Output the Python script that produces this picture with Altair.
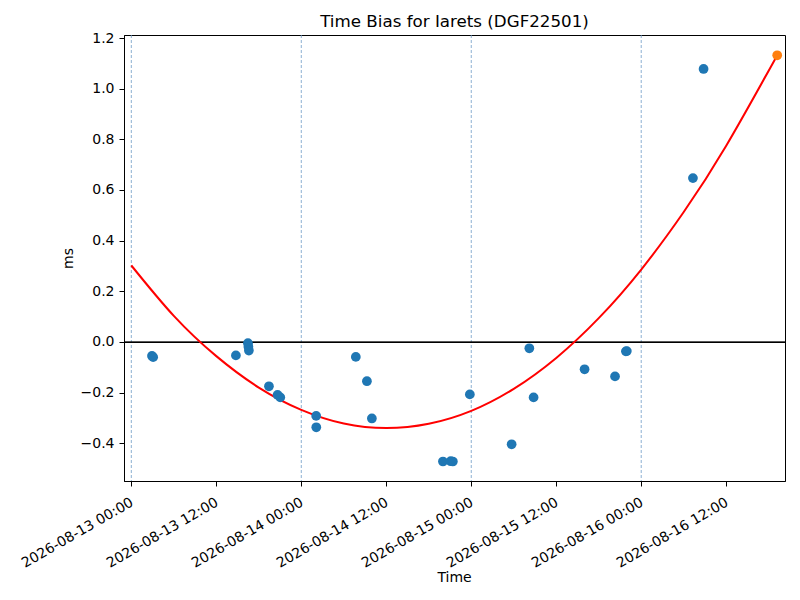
import altair as alt
import pandas as pd

# ---- data ----
blue_times = [
    "2026-08-13T02:55:00", "2026-08-13T03:05:00", "2026-08-13T14:46:00",
    "2026-08-13T16:28:00", "2026-08-13T16:32:00", "2026-08-13T16:36:00",
    "2026-08-13T19:26:00", "2026-08-13T20:39:00", "2026-08-13T21:02:00",
    "2026-08-14T02:06:00", "2026-08-14T02:07:00", "2026-08-14T07:42:00",
    "2026-08-14T09:16:00", "2026-08-14T09:58:00", "2026-08-14T20:00:00",
    "2026-08-14T21:06:00", "2026-08-14T21:24:00", "2026-08-14T23:48:00",
    "2026-08-15T05:42:00", "2026-08-15T08:12:00", "2026-08-15T08:48:00",
    "2026-08-15T16:00:00", "2026-08-15T20:18:00", "2026-08-15T21:50:00",
    "2026-08-15T21:58:00", "2026-08-16T07:18:00", "2026-08-16T08:48:00",
]
blue_vals = [
    -0.055, -0.060, -0.053,
    -0.005, -0.019, -0.034,
    -0.175, -0.209, -0.219,
    -0.292, -0.337, -0.059,
    -0.155, -0.302, -0.472,
    -0.471, -0.472, -0.207,
    -0.404, -0.025, -0.219,
    -0.108, -0.136, -0.037,
    -0.036, 0.647, 1.078,
]

pred_time = ["2026-08-16T19:12:00"]
pred_val = [1.132]

fit_times = [
    "2026-08-13T00:00:00", "2026-08-13T06:00:00", "2026-08-13T12:00:00",
    "2026-08-13T18:00:00", "2026-08-14T00:00:00", "2026-08-14T06:00:00",
    "2026-08-14T12:00:00", "2026-08-14T18:00:00", "2026-08-15T00:00:00",
    "2026-08-15T06:00:00", "2026-08-15T12:00:00", "2026-08-15T18:00:00",
    "2026-08-16T00:00:00", "2026-08-16T06:00:00", "2026-08-16T12:00:00",
    "2026-08-16T19:12:00",
]
fit_vals = [
    0.302, 0.103, -0.056,
    -0.180, -0.268, -0.322,
    -0.340, -0.323, -0.272,
    -0.185, -0.063, 0.094,
    0.286, 0.513, 0.775,
    1.132,
]

day_lines = ["2026-08-13T00:00:00", "2026-08-14T00:00:00",
             "2026-08-15T00:00:00", "2026-08-16T00:00:00"]

tick_days = [13, 13, 14, 14, 15, 15, 16, 16]
tick_hours = [0, 12, 0, 12, 0, 12, 0, 12]
y_ticks = [-0.4, -0.2, 0.0, 0.2, 0.4, 0.6, 0.8, 1.0, 1.2]

# ---- tables ----
pts = pd.DataFrame({"t": blue_times, "v": blue_vals})
pred = pd.DataFrame({"t": pred_time, "v": pred_val})
fit = pd.DataFrame({"t": fit_times, "v": fit_vals})
days = pd.DataFrame({"t": day_lines})

FONT = "DejaVu Sans"

xenc = alt.X(
    "t:T",
    scale=alt.Scale(domain=[
        alt.DateTime(year=2026, month=8, date=12, hours=22, minutes=58),
        alt.DateTime(year=2026, month=8, date=16, hours=20, minutes=18),
    ]),
    axis=alt.Axis(
        values=[alt.DateTime(year=2026, month=8, date=d, hours=h)
                for d, h in zip(tick_days, tick_hours)],
        format="%Y-%m-%d %H:%M",
        labelAngle=-30, labelAlign="right", labelBaseline="top",
        labelOverlap=False, labelOffset=-3, labelPadding=9,
        title="Time", titleX=330, titleY=96, titleBaseline="middle",
    ),
)
yenc = alt.Y(
    "v:Q",
    scale=alt.Scale(domain=[-0.549, 1.212], nice=False, zero=False),
    axis=alt.Axis(values=y_ticks, format=".1f", title="ms",
                  labelPadding=5,
                  titleX=-56, titleY=223, titleBaseline="middle"),
)

vlines = alt.Chart(days).mark_rule(
    color="#6f9cc6", strokeWidth=0.8, strokeDash=[3, 2]
).encode(x=xenc)

zero = alt.Chart(pts).mark_rule(
    color="black", strokeWidth=0.8, yOffset=0.5
).encode(y=alt.datum(0))

curve = alt.Chart(fit).mark_line(
    color="red", strokeWidth=2, interpolate="natural"
).encode(x=xenc, y=yenc)

blue = alt.Chart(pts).mark_circle(
    color="#1f77b4", size=95, opacity=1
).encode(x=xenc, y=yenc)

orange = alt.Chart(pred).mark_circle(
    color="#ff7f0e", size=95, opacity=1
).encode(x=xenc, y=yenc)

chart = alt.layer(vlines, zero, curve, blue, orange).properties(
    width=661,
    height=446,
    autosize=alt.AutoSizeParams(type="none"),
    padding={"left": 116, "top": 27, "right": 7, "bottom": 105},
    title=alt.TitleParams(
        "Time Bias for Iarets (DGF22501)", font=FONT, fontSize=16.7,
        fontWeight="normal", color="black", anchor="middle",
        baseline="bottom", offset=4, dy=21,
    ),
).configure_view(
    stroke="black", strokeWidth=1
).configure_axis(
    domainColor="black", tickColor="black", labelColor="black",
    titleColor="black", labelFont=FONT, titleFont=FONT,
    labelFontSize=14, titleFontSize=14, titleFontWeight="normal",
    tickSize=5, grid=False, domainWidth=1, tickWidth=1,
)

chart.save("out.html", embed_options={"renderer": "svg", "actions": False})
